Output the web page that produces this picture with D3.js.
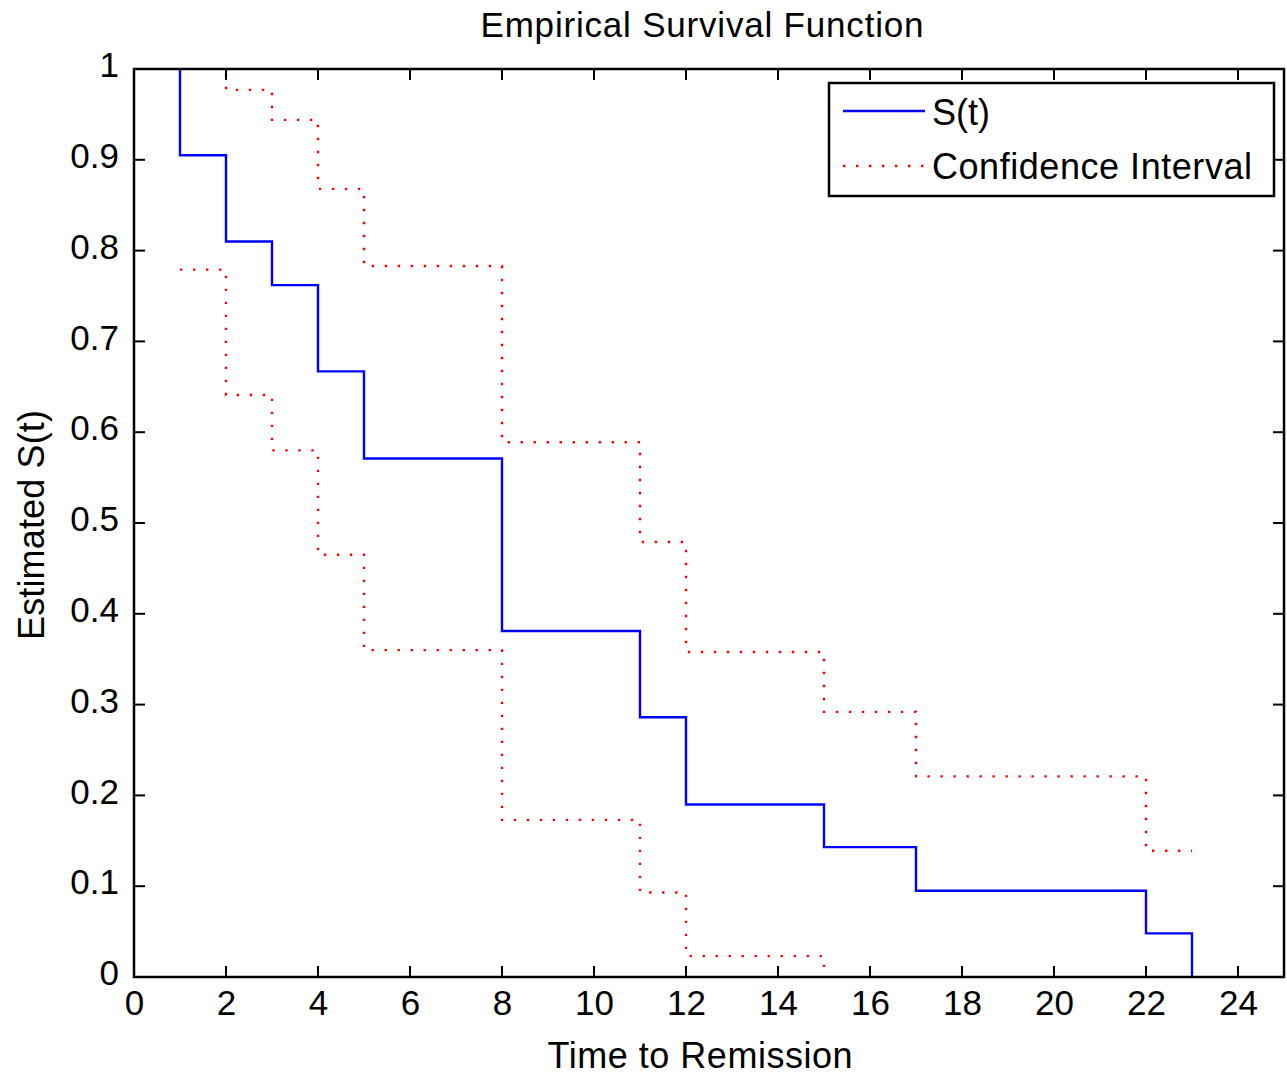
<!DOCTYPE html>
<html>
<head>
<meta charset="utf-8">
<script src="https://cdn.jsdelivr.net/npm/d3@7"></script>
<style>
  html, body { margin: 0; padding: 0; background: #fff; }
  text { font-family: "Liberation Sans", Arial, sans-serif; fill: #000; }
</style>
</head>
<body>
<svg id="chart" width="1287" height="1081"></svg>
<script>
// ---- data ----
const times      = [1, 2, 3, 4, 5, 8, 11, 12, 15, 17, 22, 23];
const survival   = [0.905, 0.810, 0.762, 0.667, 0.571, 0.381, 0.286, 0.190, 0.143, 0.095, 0.048, 0.000];
const ciTimes    = [1, 2, 3, 4, 5, 8, 11, 12, 15, 17, 22, 23];
const ciUpper    = [1.030, 0.977, 0.944, 0.868, 0.783, 0.589, 0.479, 0.358, 0.292, 0.221, 0.139, 0.139];
const ciLower    = [0.779, 0.641, 0.580, 0.465, 0.360, 0.173, 0.093, 0.023, -0.007, -0.030, -0.044, -0.044];
const xTicks     = [0, 2, 4, 6, 8, 10, 12, 14, 16, 18, 20, 22, 24];
const yTicks     = [0, 0.1, 0.2, 0.3, 0.4, 0.5, 0.6, 0.7, 0.8, 0.9, 1];
const yTickLabels = ["0", "0.1", "0.2", "0.3", "0.4", "0.5", "0.6", "0.7", "0.8", "0.9", "1"];
const titleText  = "Empirical Survival Function";
const xLabelText = "Time to Remission";
const yLabelText = "Estimated S(t)";
const legendLabels = ["S(t)", "Confidence Interval"];

// ---- layout ----
const L = 134, R = 1284, T = 69, B = 977;
const svg = d3.select("#chart");
const x = d3.scaleLinear().domain([0, 25]).range([L, R]);
const y = d3.scaleLinear().domain([0, 1]).range([B, T]);

svg.append("defs").append("clipPath").attr("id", "plotclip")
  .append("rect").attr("x", L).attr("y", T).attr("width", R - L).attr("height", B - T);

const plot = svg.append("g").attr("clip-path", "url(#plotclip)");

const stepLine = d3.line().x(d => x(d[0])).y(d => y(d[1])).curve(d3.curveStepAfter);

// S(t): starts at (1,1)
const sPts = [[times[0], 1]].concat(times.map((t, i) => [t, survival[i]]));
const cuPts = ciTimes.map((t, i) => [t, ciUpper[i]]);
const clPts = ciTimes.map((t, i) => [t, ciLower[i]]);

plot.append("path").attr("d", stepLine(cuPts))
  .attr("fill", "none").attr("stroke", "#ff0000").attr("stroke-width", 2.4)
  .attr("stroke-dasharray", "2.4,10.6");
plot.append("path").attr("d", stepLine(clPts))
  .attr("fill", "none").attr("stroke", "#ff0000").attr("stroke-width", 2.4)
  .attr("stroke-dasharray", "2.4,10.6");
plot.append("path").attr("d", stepLine(sPts))
  .attr("fill", "none").attr("stroke", "#0000ff").attr("stroke-width", 2.4);

// ---- axes ----
const tickLen = 11;
const axisG = svg.append("g");
// bottom axis
const xAxis = d3.axisBottom(x).tickValues(xTicks).tickSize(0).tickPadding(0).tickFormat(d3.format("d"));
const gx = axisG.append("g").attr("transform", `translate(0,${B})`).call(xAxis);
gx.select(".domain").remove();
gx.selectAll("text").attr("font-size", 35).attr("dy", null).attr("y", 38)
  .attr("font-family", '"Liberation Sans", Arial, sans-serif');
// left axis
const yAxis = d3.axisLeft(y).tickValues(yTicks).tickSize(0).tickPadding(0)
  .tickFormat((d, i) => yTickLabels[i]);
const gy = axisG.append("g").attr("transform", `translate(${L},0)`).call(yAxis);
gy.select(".domain").remove();
gy.selectAll("text").attr("font-size", 35).attr("x", -15).attr("dy", "0.22em")
  .attr("font-family", '"Liberation Sans", Arial, sans-serif');

// tick marks on all four sides (inward)
const tk = axisG.append("g").attr("stroke", "#000").attr("stroke-width", 2);
xTicks.forEach(v => {
  tk.append("line").attr("x1", x(v)).attr("x2", x(v)).attr("y1", B).attr("y2", B - tickLen);
  tk.append("line").attr("x1", x(v)).attr("x2", x(v)).attr("y1", T).attr("y2", T + tickLen);
});
yTicks.forEach(v => {
  tk.append("line").attr("x1", L).attr("x2", L + tickLen).attr("y1", y(v)).attr("y2", y(v));
  tk.append("line").attr("x1", R).attr("x2", R - tickLen).attr("y1", y(v)).attr("y2", y(v));
});
// frame
axisG.append("rect").attr("x", L).attr("y", T).attr("width", R - L).attr("height", B - T)
  .attr("fill", "none").attr("stroke", "#000").attr("stroke-width", 2.5);

// ---- labels ----
svg.append("text").attr("x", 702).attr("y", 37).attr("text-anchor", "middle")
  .attr("font-size", 35).attr("textLength", 443).text(titleText);
svg.append("text").attr("x", 700).attr("y", 1068).attr("text-anchor", "middle")
  .attr("font-size", 36).attr("textLength", 305).text(xLabelText);
svg.append("text").attr("transform", "translate(44,525) rotate(-90)").attr("text-anchor", "middle")
  .attr("font-size", 36).attr("textLength", 230).text(yLabelText);

// ---- legend ----
const lg = svg.append("g");
lg.append("rect").attr("x", 829).attr("y", 83).attr("width", 445).attr("height", 113)
  .attr("fill", "#fff").attr("stroke", "#000").attr("stroke-width", 2.5);
lg.append("line").attr("x1", 843).attr("x2", 925).attr("y1", 111).attr("y2", 111)
  .attr("stroke", "#0000ff").attr("stroke-width", 2.4);
lg.append("line").attr("x1", 843).attr("x2", 925).attr("y1", 166).attr("y2", 166)
  .attr("stroke", "#ff0000").attr("stroke-width", 2.4).attr("stroke-dasharray", "2.4,10.6");
lg.append("text").attr("x", 932).attr("y", 125).attr("font-size", 36).text(legendLabels[0]);
lg.append("text").attr("x", 932).attr("y", 179).attr("font-size", 36).attr("textLength", 320).text(legendLabels[1]);
</script>
</body>
</html>
